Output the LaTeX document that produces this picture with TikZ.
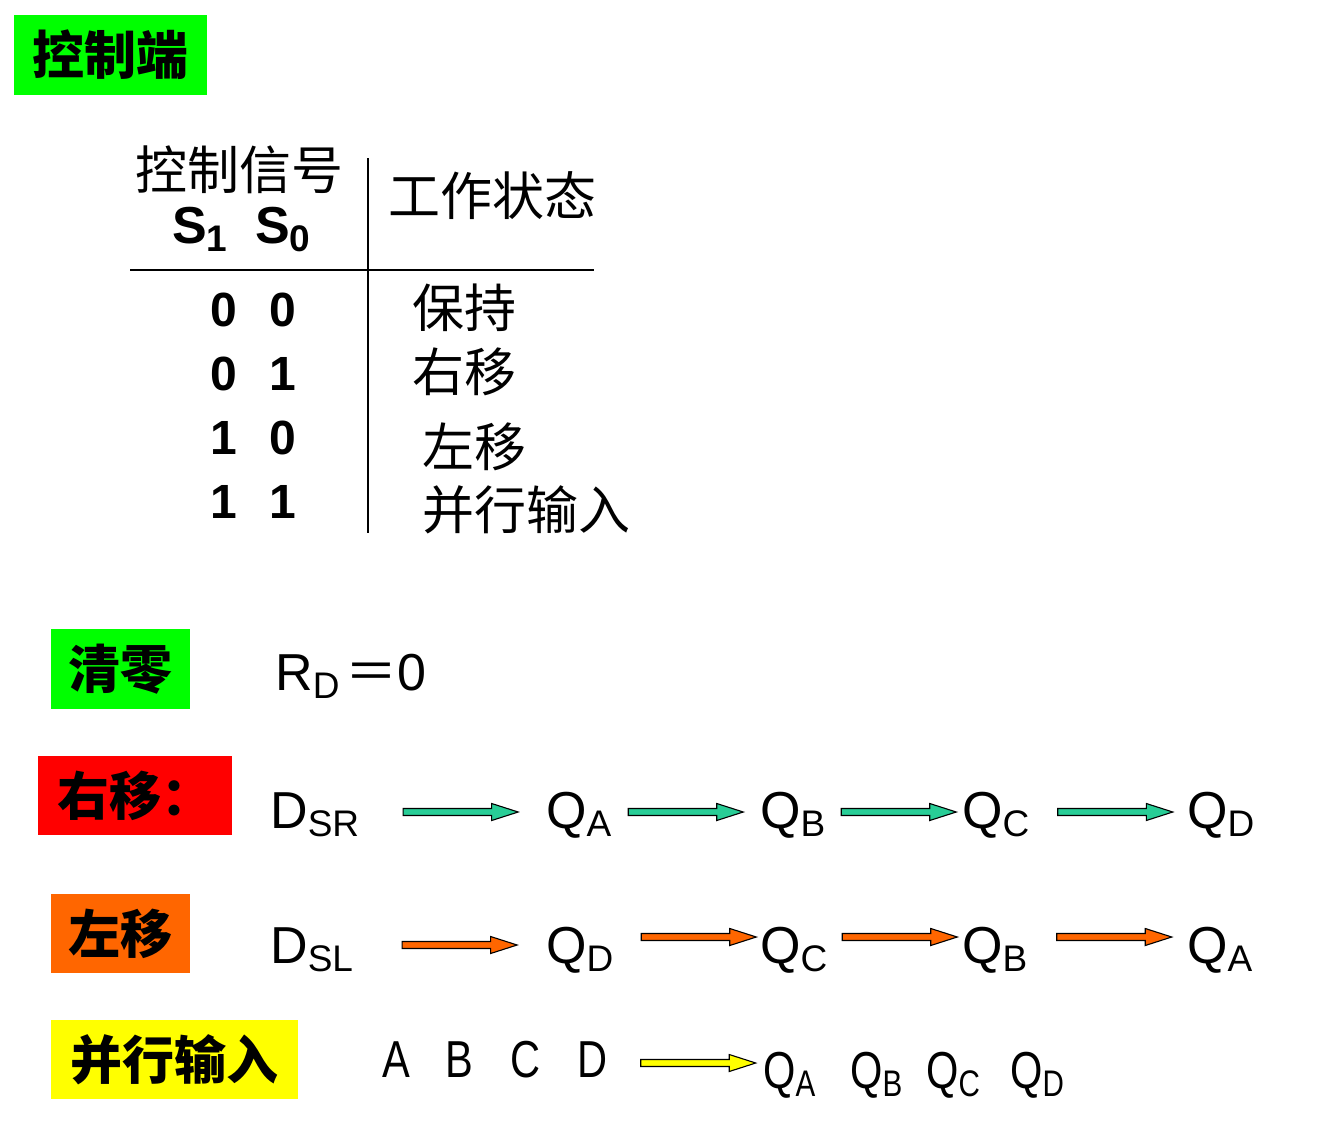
\documentclass[tikz,border=0pt]{standalone}
\usepackage{fontspec}
\setmainfont{Liberation Sans}
\newfontfamily\cjk{Noto Sans CJK SC}
\newfontfamily\narrowsans[FakeStretch=0.8]{Liberation Sans}
\usetikzlibrary{calc, positioning}
\definecolor{tag_green}{RGB}{0,255,0}
\definecolor{tag_red}{RGB}{255,0,0}
\definecolor{tag_orange}{RGB}{255,102,0}
\definecolor{tag_yellow}{RGB}{255,255,0}
\definecolor{arrow_green}{RGB}{40,205,150}
\newcommand{\lowsub}[1]{{\fontsize{37}{37}\selectfont\raisebox{-8pt}{#1}}}
\tikzset{
  tag/.style = {font=\cjk\bfseries\fontsize{52}{52}\selectfont, inner sep=0, minimum height=80},
  state/.style = {font=\cjk\fontsize{52}{52}\selectfont, inner sep=0, anchor=west},
  sig/.style = {font=\bfseries\fontsize{48}{48}\selectfont, inner sep=0, anchor=base west},
  term/.style = {font=\fontsize{52}{52}\selectfont, inner sep=0, anchor=base west},
  par_term/.style = {font=\narrowsans\fontsize{52}{52}\selectfont, inner sep=0, anchor=base west},
  rule/.style = {line width=1.6pt}
}
\tikzset{
  % fill colour, lift above the baseline, shift to the right
  block_arrow/.style n args = {3}{fill=#1, draw=black, line width=1.1pt, line join=miter,
    to path={let \p1=(\tikztostart.base east), \p2=(\tikztotarget.base west),
      \n1={0.5*(\x1+\x2)+#3}, \n2={\y1+#2} in
      ({\n1*1pt-57.5pt},{\n2*1pt+3.5pt}) -- ({\n1*1pt+31pt},{\n2*1pt+3.5pt})
      -- ({\n1*1pt+31pt},{\n2*1pt+8.5pt}) -- ({\n1*1pt+57.5pt},{\n2*1pt})
      -- ({\n1*1pt+31pt},{\n2*1pt-8.5pt}) -- ({\n1*1pt+31pt},{\n2*1pt-3.5pt})
      -- ({\n1*1pt-57.5pt},{\n2*1pt-3.5pt}) -- cycle}}
}
\begin{document}
\begin{tikzpicture}[x=1pt, y=-1pt]
    \useasboundingbox (0,0) rectangle (1327,1132);

    % Control inputs and table
    \node[tag, fill=tag_green, minimum width=193] (ctrl_tag) at (110.5,55) {控制端};

    \node[state] (sig_head) at (135,170) {控制信号};
    \node[sig, font=\bfseries\fontsize{52}{52}\selectfont] (s_1) at (172,243) {S\lowsub{1}};
    \node[sig, font=\bfseries\fontsize{52}{52}\selectfont] (s_0) at (255,243) {S\lowsub{0}};
    \node[state] (mode_head) at (388,196) {工作状态};

    \node[sig] (r1_a) at (210,326) {0};
    \node[sig] (r1_b) at (269,326) {0};
    \node[state] (r1_mode) at (412,308) {保持};
    \node[sig] (r2_a) at (210,390) {0};
    \node[sig] (r2_b) at (269,390) {1};
    \node[state] (r2_mode) at (412,372) {右移};
    \node[sig] (r3_a) at (210,454) {1};
    \node[sig] (r3_b) at (269,454) {0};
    \node[state] (r3_mode) at (422,447) {左移};
    \node[sig] (r4_a) at (210,518) {1};
    \node[sig] (r4_b) at (269,518) {1};
    \node[state] (r4_mode) at (422,510) {并行输入};

    \draw[rule] (130,270) -- (594,270);
    \draw[rule] (368,158) -- (368,533);

    % Clear
    \node[tag, fill=tag_green, minimum width=139] (clear_tag) at (120.5,669) {清零};
    \node[term] (rd) at (275,690) {R\lowsub{D}\hspace{6pt}{\cjk ＝}0};

    % Shift right
    \node[tag, fill=tag_red, minimum width=194, minimum height=79] (right_tag) at (135,795.5) {右移：};
    \node[term] (dsr) at (270,828) {D\lowsub{SR}};
    \node[term] (sr_a) at (546,828) {Q\lowsub{A}};
    \node[term] (sr_b) at (760,828) {Q\lowsub{B}};
    \node[term] (sr_c) at (962,828) {Q\lowsub{C}};
    \node[term] (sr_d) at (1187,828) {Q\lowsub{D}};

    % Shift left
    \node[tag, fill=tag_orange, minimum width=139, minimum height=79] (left_tag) at (120.5,933.5) {左移};
    \node[term] (dsl) at (270,963) {D\lowsub{SL}};
    \node[term] (sl_d) at (546,963) {Q\lowsub{D}};
    \node[term] (sl_c) at (760,963) {Q\lowsub{C}};
    \node[term] (sl_b) at (962,963) {Q\lowsub{B}};
    \node[term] (sl_a) at (1187,963) {Q\lowsub{A}};

    % Parallel load
    \node[tag, fill=tag_yellow, minimum width=247, minimum height=79] (load_tag) at (174.5,1059.5) {并行输入};
    \node[par_term] (in_a) at (382,1077) {A};
    \node[par_term] (in_b) at (445,1077) {B};
    \node[par_term] (in_c) at (510,1077) {C};
    \node[par_term] (in_d) at (577,1077) {D};
    \node[par_term] (ld_a) at (763,1088) {Q\lowsub{A}};
    \node[par_term] (ld_b) at (850,1088) {Q\lowsub{B}};
    \node[par_term] (ld_c) at (926,1088) {Q\lowsub{C}};
    \node[par_term] (ld_d) at (1010,1088) {Q\lowsub{D}};

    % Arrows
    \draw[block_arrow={arrow_green}{16}{8}] (dsr) to (sr_a);
    \draw[block_arrow={arrow_green}{16}{0}] (sr_a) to (sr_b);
    \draw[block_arrow={arrow_green}{16}{5}] (sr_b) to (sr_c);
    \draw[block_arrow={arrow_green}{16}{7}] (sr_c) to (sr_d);

    \draw[block_arrow={tag_orange}{18}{10}] (dsl) to (sl_d);
    \draw[block_arrow={tag_orange}{26}{12}] (sl_d) to (sl_c);
    \draw[block_arrow={tag_orange}{26}{5}] (sl_c) to (sl_b);
    \draw[block_arrow={tag_orange}{26}{7}] (sl_b) to (sl_a);

    \draw[block_arrow={tag_yellow}{14}{13}] (in_d) to (ld_a);
\end{tikzpicture}
\end{document}
